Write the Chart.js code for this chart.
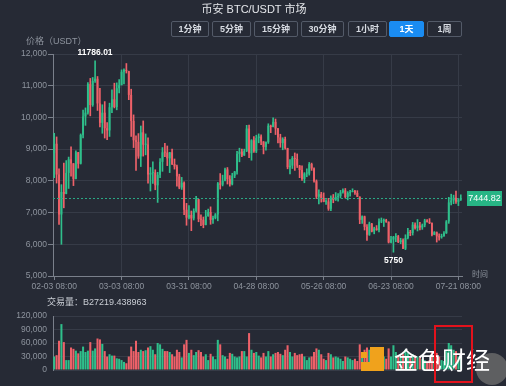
<!DOCTYPE html>
<html><head><meta charset="utf-8">
<script src="https://cdn.jsdelivr.net/npm/chart.js@4"></script>
<style>
html,body{margin:0;padding:0;background:#262a35;width:506px;height:386px;overflow:hidden;font-family:'Liberation Sans','Noto Sans CJK SC',sans-serif;}
#wrap{position:relative;width:506px;height:386px;}
#pbox{position:absolute;left:0;top:0;width:506px;height:300px;}
#vbox{position:absolute;left:0;top:300px;width:506px;height:86px;}
.t{position:absolute;white-space:nowrap;}
.btn{position:absolute;top:21px;height:16px;box-sizing:border-box;border:1px solid #535a68;border-radius:2px;color:#d8dce3;font-size:9px;font-weight:bold;line-height:14px;text-align:center;}
.sel{background:#1a8cf2;border-color:#1a8cf2;color:#fff;}
</style></head><body><div id="wrap">
<div id="pbox"><canvas id="pc"></canvas></div>
<div id="vbox"><canvas id="vc"></canvas></div>
<div class="t" style="left:0;width:508px;top:2px;text-align:center;color:#e4e6ea;font-size:11px;line-height:14px;">币安 BTC/USDT 市场</div>
<div class="btn" style="left:171px;width:38px;">1分钟</div>
<div class="btn" style="left:212px;width:39px;">5分钟</div>
<div class="btn" style="left:254px;width:44px;">15分钟</div>
<div class="btn" style="left:301px;width:43px;">30分钟</div>
<div class="btn" style="left:348px;width:39px;">1小时</div>
<div class="btn sel" style="left:389px;width:35px;">1天</div>
<div class="btn" style="left:427px;width:35px;">1周</div>
<div class="t" style="left:26px;top:35px;color:#8e949e;font-size:9px;line-height:12px;">价格（USDT）</div>
<div class="t" style="left:472px;top:270px;color:#8e949e;font-size:8px;line-height:10px;">时间</div>
<div class="t" style="left:47px;top:296px;color:#c9cdd4;font-size:9px;line-height:12px;">交易量：B27219.438963</div>
<div class="t" style="left:476px;top:353px;width:32px;height:32px;border-radius:50%;background:#5e5f61;"></div>
<div class="t" style="left:370px;top:347px;width:14px;height:24px;background:#f0a21c;"></div>
<div class="t" style="left:361px;top:362px;width:23px;height:9px;background:#f0a21c;"></div>
<div class="t" style="left:361px;top:352px;width:6px;height:6px;background:#f0a21c;"></div>
<div class="t" style="left:394px;top:345px;color:#ffffff;font-size:24px;line-height:28px;font-family:'Noto Sans CJK SC',sans-serif;">金色财经</div>
<div class="t" style="left:434px;top:325px;width:39px;height:58px;box-sizing:border-box;border:2px solid #e3121c;"></div>
</div>
<script>
const tickLabels = ['02-03 08:00','03-03 08:00','03-31 08:00','04-28 08:00','05-26 08:00','06-23 08:00','07-21 08:00'];
const lastPrice = 7444.82;

const opens = [
 8873,9170,8200,6940,7650,7590,8250,8680,8550,8060,8900,8540,9450,10030,10150,11050,10390,11150,11220,10440,9830,10150,9660,9590,10320,10570,
 10330,10920,11020,11440,11500,11460,10710,9890,9280,9230,8770,9530,9140,9150,8200,8250,8260,7860,8190,8600,8900,8890,8710,8900,8530,8450,8140,7790,7940,7090,6840,
 6925,6815,7050,7420,6790,6775,6610,6890,7020,6770,6830,6940,7920,7880,8000,8360,8050,7890,8160,8290,8850,8920,8800,8940,9650,8870,9280,8930,9350,9400,
 9240,9070,9220,9740,9700,9860,9650,9370,9190,9320,9030,8430,8480,8720,8690,8480,8340,8060,8230,8230,8530,8390,7990,7500,7580,7460,7340,7350,7120,7470,7400,
 7490,7520,7640,7700,7490,7620,7650,7680,7620,7500,6770,6880,6550,6300,6650,6400,6500,6450,6720,6740,6760,6710,6060,6150,6230,6250,6070,6130,5860,6200,
 6390,6360,6620,6510,6590,6530,6600,6750,6710,6670,6300,6380,6250,6220,6260,6350,6720,7320,7380,7470,7340,7410];
const highs = [
 9500,9385,8380,7880,8560,8640,8750,9070,8550,8950,8900,9480,10230,10300,11100,11230,11260,11786.01,11290,10920,10400,10500,9840,10450,10870,11080,
 11090,11190,11500,11530,11700,11460,10890,10080,9420,9490,9730,9890,9480,9360,8420,8600,8350,8270,8700,9050,9180,9100,8900,9000,8690,8500,8210,8110,7970,7290,7220,
 7050,7120,7510,7420,6930,6860,7070,7110,7180,6890,6970,7950,8230,8180,8400,8420,8170,8240,8300,8930,9030,9000,9000,9750,9760,9300,9400,9440,9480,9450,
 9240,9230,9800,9760,9990,9950,9660,9470,9360,9380,9030,8670,8770,8880,8850,8490,8470,8260,8380,8580,8560,8410,8030,7720,7640,7620,7410,7450,7530,7570,7630,
 7600,7700,7750,7760,7660,7700,7750,7700,7690,7500,6900,6890,6620,6700,6660,6540,6590,6800,6830,6800,6790,6710,6250,6250,6340,6280,6190,6170,6300,6500,
 6440,6690,6680,6780,6690,6640,6790,6780,6810,6680,6400,6390,6330,6320,6400,6750,7480,7580,7550,7680,7450,7560];
const lows = [
 8100,7930,6625,6000,7150,7590,7760,8150,7850,8060,8400,8530,9350,9750,10100,10050,10350,11100,10220,9700,9500,9350,9300,9400,10150,10300,
 10240,10770,11020,11060,11400,10560,9400,9050,8330,8710,8450,8780,8820,7930,7680,7920,7720,7320,8100,8300,8760,8480,8260,8510,8370,7830,7750,7730,6930,6600,6800,
 6430,6765,7010,6710,6590,6520,6610,6880,6630,6660,6800,6740,7740,7840,8000,7900,7830,7870,8100,8210,8600,8760,8800,8920,8730,8650,8900,8890,9200,9140,
 8850,8970,9180,9520,9700,9460,9200,9060,8980,9000,8380,8220,8390,8330,8420,8100,8010,7940,8130,8180,8330,7960,7440,7270,7330,7340,7260,7070,7060,7310,7380,
 7360,7460,7610,7460,7400,7520,7650,7570,7500,6650,6660,6450,6120,6280,6390,6330,6440,6390,6680,6560,6690,6040,6040,5750,6080,6050,6020,5860,5830,6170,
 6270,6290,6480,6420,6450,6470,6550,6700,6650,6260,6300,6070,6130,6190,6250,6340,6660,7240,7280,7290,7220,7380];
const closes = [
 9170,8200,6940,7650,7590,8250,8680,8550,8060,8900,8540,9450,10030,10150,11050,10390,11150,11220,10440,9830,10150,9660,9590,10320,10570,10330,
 10920,11020,11440,11500,11460,10710,9890,9280,9230,8770,9530,9140,9150,8200,8250,8260,7860,8190,8600,8900,8890,8710,8900,8530,8450,8140,7790,7940,7090,6840,6925,
 6815,7050,7420,6790,6775,6610,6890,7020,6770,6830,6940,7920,7880,8000,8360,8050,7890,8160,8290,8850,8920,8800,8940,9650,8870,9280,8930,9350,9400,9240,
 9070,9220,9740,9700,9860,9650,9370,9190,9320,9030,8430,8480,8720,8690,8480,8340,8060,8230,8230,8530,8390,7990,7500,7580,7460,7340,7350,7120,7470,7400,7490,
 7520,7640,7700,7490,7620,7650,7680,7620,7500,6770,6880,6550,6300,6650,6400,6500,6450,6720,6740,6760,6710,6060,6150,6230,6250,6070,6130,5860,6200,6390,
 6360,6620,6510,6590,6530,6600,6750,6710,6670,6300,6380,6250,6220,6260,6350,6720,7320,7380,7470,7340,7410,7444.82];
const volumes = [
 30000,33000,65000,102000,62000,22000,22000,50000,47000,43000,37000,42000,52000,40000,43000,62000,43000,48000,70000,68000,58000,42000,30000,35000,32000,32000,
 26000,25000,22000,18000,15000,30000,52000,42000,65000,40000,45000,42000,44000,50000,53000,45000,35000,60000,57000,47000,42000,42000,40000,35000,30000,45000,40000,28000,57000,67000,38000,
 45000,33000,40000,44000,40000,30000,35000,22000,36000,30000,24000,67000,57000,33000,30000,25000,38000,36000,30000,28000,30000,42000,42000,30000,82000,45000,38000,40000,32000,28000,
 38000,30000,42000,30000,35000,38000,40000,36000,33000,45000,55000,40000,30000,38000,33000,35000,36000,30000,22000,28000,30000,40000,48000,45000,35000,25000,22000,38000,35000,28000,30000,
 28000,25000,20000,30000,28000,25000,22000,25000,20000,57000,40000,45000,50000,45000,35000,25000,22000,38000,30000,30000,25000,48000,30000,55000,40000,32000,30000,35000,45000,38000,
 28000,35000,32000,30000,28000,25000,22000,18000,22000,40000,30000,38000,30000,22000,20000,42000,60000,55000,45000,42000,30000,28000];

// categories: one per trading day, 08:00 Beijing time
const categories = [];
for (let i = 0; i < closes.length; i++) {
  const d = new Date(Date.UTC(2018, 1, 3 + i));
  categories.push(String(d.getUTCMonth() + 1).padStart(2, '0') + '-' + String(d.getUTCDate()).padStart(2, '0') + ' 08:00');
}

const UP = '#2fbf8b', DOWN = '#ee6169';
const GRID = '#363b47', TICK = '#8e949e', AXIS = '#7a808b';
const FONT = "'Liberation Sans','Noto Sans CJK SC',sans-serif";
const dirColor = closes.map((c, i) => c >= opens[i] ? UP : DOWN);

const bodies = closes.map((c, i) => [opens[i], c]);
const wicks = closes.map((c, i) => [lows[i], highs[i]]);

const marks = {
  id: 'marks',
  afterDatasetsDraw(chart) {
    const { ctx, chartArea: a, scales: { x, y } } = chart;
    const py = Math.round(y.getPixelForValue(lastPrice)) + 0.5;
    ctx.save();
    ctx.strokeStyle = '#2aa884'; ctx.lineWidth = 1; ctx.setLineDash([2, 2]);
    ctx.beginPath(); ctx.moveTo(a.left, py); ctx.lineTo(a.right, py); ctx.stroke();
    ctx.setLineDash([]);
    ctx.fillStyle = '#27b585';
    ctx.fillRect(a.right + 5, py - 7.5, 35, 15);
    ctx.fillStyle = '#ffffff'; ctx.font = '9px ' + FONT;
    ctx.textAlign = 'center'; ctx.textBaseline = 'middle';
    ctx.fillText(lastPrice.toFixed(2), a.right + 22.5, py + 0.5);
    let hi = 0, lo = 0;
    for (let i = 0; i < highs.length; i++) {
      if (highs[i] > highs[hi]) hi = i;
      if (lows[i] < lows[lo]) lo = i;
    }
    ctx.font = 'bold 8.5px ' + FONT;
    ctx.fillText(String(highs[hi]), x.getPixelForValue(hi), y.getPixelForValue(highs[hi]) - 8);
    ctx.fillText(String(lows[lo]), x.getPixelForValue(lo), y.getPixelForValue(lows[lo]) + 8);
    ctx.restore();
  }
};

new Chart(document.getElementById('pc'), {
  type: 'bar',
  data: {
    labels: categories,
    datasets: [
      { data: wicks, backgroundColor: dirColor, barThickness: 1, grouped: false, order: 2 },
      { data: bodies, backgroundColor: dirColor, barPercentage: 0.8, categoryPercentage: 1, grouped: false, minBarLength: 1, order: 1 }
    ]
  },
  options: {
    responsive: true, maintainAspectRatio: false, animation: false,
    layout: { padding: { top: 54, right: 44, left: 0, bottom: 0 } },
    plugins: { legend: { display: false }, tooltip: { enabled: false } },
    scales: {
      x: {
        afterFit(s) { s.height = 24; },
        grid: {
          color: (c) => (c.index > 0 && tickLabels.includes(categories[c.index])) ? GRID : 'rgba(0,0,0,0)',
          tickColor: (c) => tickLabels.includes(categories[c.index]) ? AXIS : 'rgba(0,0,0,0)',
          tickLength: 4, offset: false
        },
        border: { display: true, color: AXIS, width: 1 },
        ticks: {
          autoSkip: false, maxRotation: 0, minRotation: 0, padding: 2,
          color: TICK, font: { size: 8.5, family: FONT },
          callback(v, i) { const l = categories[i]; return tickLabels.includes(l) ? l : ''; }
        }
      },
      y: {
        min: 5000, max: 12000,
        afterFit(s) { s.width = 53; },
        grid: { color: GRID, tickColor: AXIS, tickLength: 5 },
        border: { display: true, color: AXIS, width: 1 },
        ticks: {
          stepSize: 1000, padding: 1, color: TICK, font: { size: 8.5, family: FONT },
          callback: (v) => v.toLocaleString('en-US')
        }
      }
    }
  },
  plugins: [marks]
});

new Chart(document.getElementById('vc'), {
  type: 'bar',
  data: {
    labels: categories,
    datasets: [{ data: volumes, backgroundColor: dirColor, barPercentage: 0.85, categoryPercentage: 1 }]
  },
  options: {
    responsive: true, maintainAspectRatio: false, animation: false,
    layout: { padding: { top: 16, right: 44, left: 0, bottom: 16 } },
    plugins: { legend: { display: false }, tooltip: { enabled: false } },
    scales: {
      x: { display: false },
      y: {
        min: 0, max: 120000,
        afterFit(s) { s.width = 53; },
        grid: { color: GRID, tickColor: 'rgba(0,0,0,0)', tickLength: 4 },
        border: { display: true, color: AXIS, width: 1 },
        ticks: {
          stepSize: 30000, padding: 2, color: TICK, font: { size: 8.5, family: FONT },
          callback: (v) => v.toLocaleString('en-US')
        }
      }
    }
  }
});
</script></body></html>
